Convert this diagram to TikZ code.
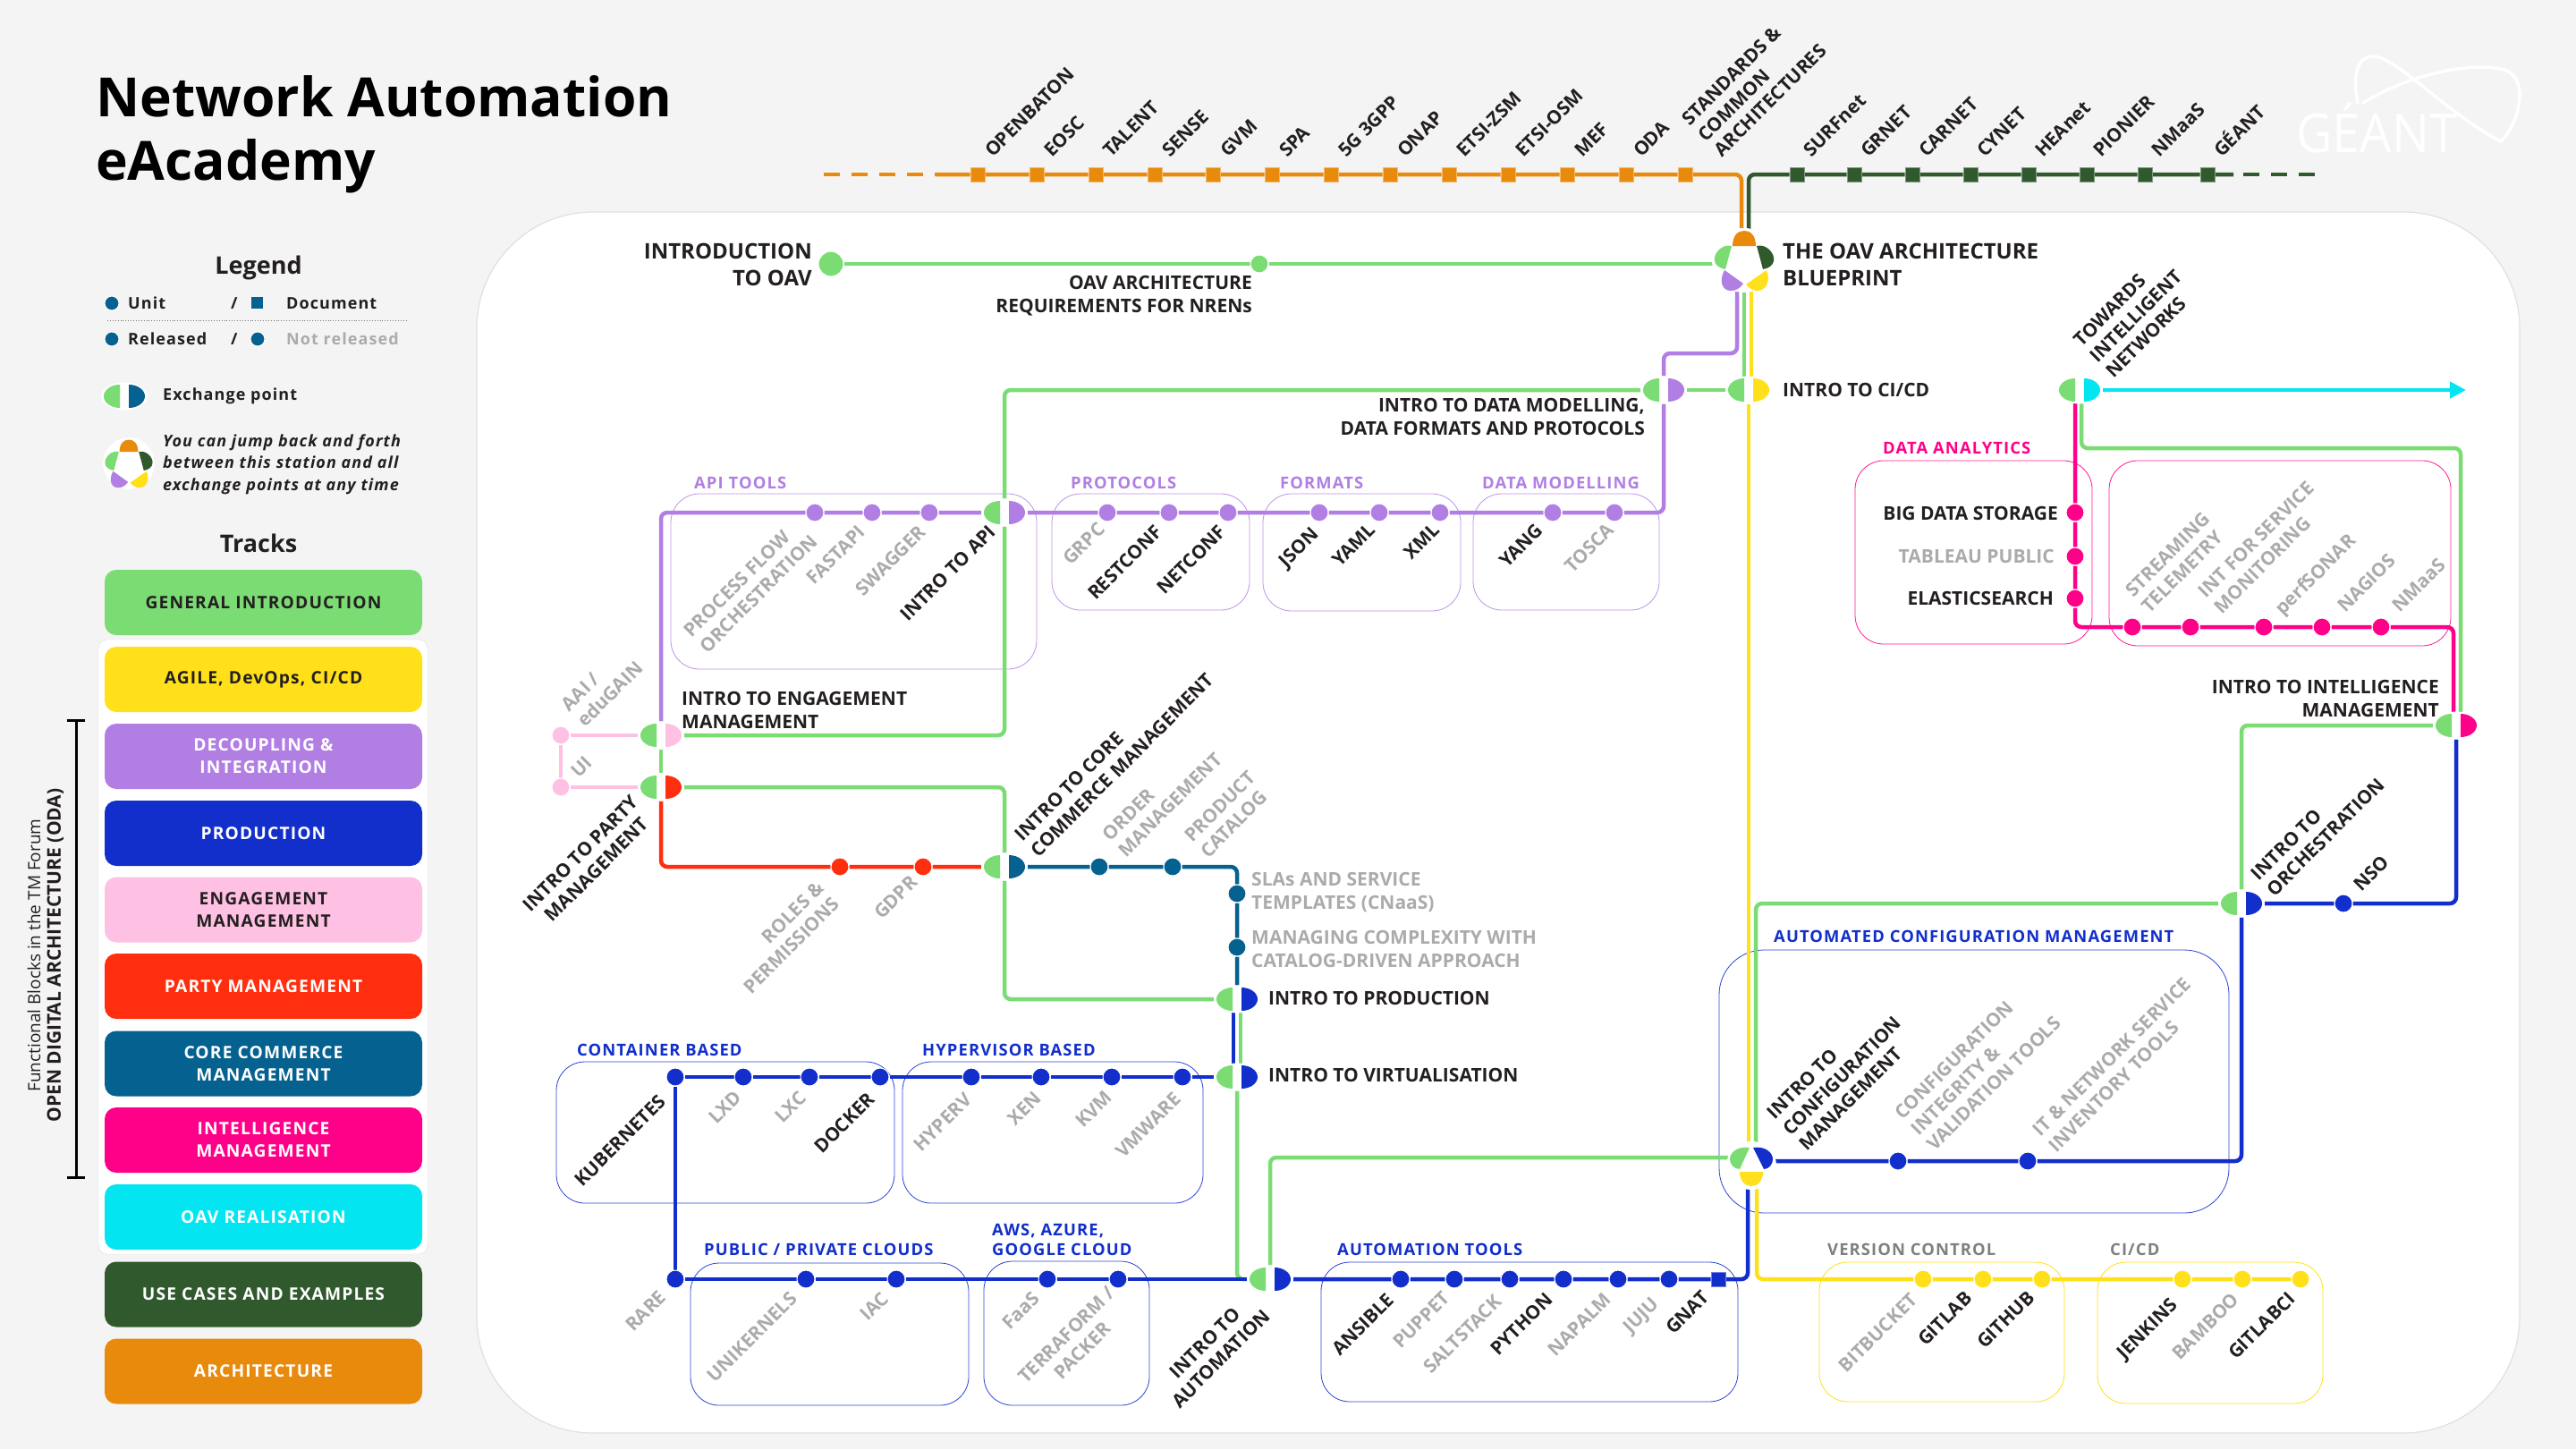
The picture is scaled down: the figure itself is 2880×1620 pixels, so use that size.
\documentclass[tikz,border=0pt]{standalone}
\usepackage{fontspec}
\usepackage{xcolor}
\setmainfont{Open Sans}
\newfontfamily\spaced{Open Sans}[LetterSpace=6]
\usetikzlibrary{shapes.geometric, arrows.meta, backgrounds}

\definecolor{cPage}{HTML}{F4F4F4}
\definecolor{cGen}{HTML}{7BDC74}
\definecolor{cAgile}{HTML}{FFE01A}
\definecolor{cDec}{HTML}{B17FE3}
\definecolor{cProd}{HTML}{122FCC}
\definecolor{cEng}{HTML}{FFC1E3}
\definecolor{cParty}{HTML}{FF2E0E}
\definecolor{cCore}{HTML}{05618F}
\definecolor{cIntel}{HTML}{FF0088}
\definecolor{cOav}{HTML}{04E5F2}
\definecolor{cUse}{HTML}{31592E}
\definecolor{cArch}{HTML}{E88B0D}
\definecolor{cInk}{HTML}{231F20}
\definecolor{cOff}{HTML}{ABABAB}

\tikzset{
    pics/halfl/.style={code={\fill[#1] (-5,-13) .. controls (-15,-13) and (-23,-7) .. (-23,0) .. controls (-23,7) and (-15,13) .. (-5,13) -- cycle;}},
    pics/halfr/.style={code={\fill[#1] (5,-13) .. controls (15,-13) and (23,-7) .. (23,0) .. controls (23,7) and (15,13) .. (5,13) -- cycle;}},
    pics/hubmark/.style={code={
        \fill[white] (0,0) circle [radius=36];
        \fill[cArch] (-13,-16) .. controls (-13,-28) and (-7,-33) .. (0,-33) .. controls (7,-33) and (13,-28) .. (13,-16) -- cycle;
        \fill[cGen] (-14,-16) .. controls (-24,-19) and (-35,-8) .. (-33,1) .. controls (-32,6) and (-27,9) .. (-21,10) -- cycle;
        \fill[cUse] (14,-16) .. controls (24,-19) and (35,-8) .. (33,1) .. controls (32,6) and (27,9) .. (21,10) -- cycle;
        \fill[cDec] (-22,11) -- (-1,26) .. controls (-5,32) and (-10,34) .. (-15,34) .. controls (-24,34) and (-29,24) .. (-22,11) -- cycle;
        \fill[cAgile] (25,11) -- (2,27) .. controls (6,32) and (11,34) .. (15,34) .. controls (24,34) and (30,24) .. (25,11) -- cycle;
    }}
}

% exchange point: name, x, y, left colour, right colour
\newcommand{\xpoint}[5]{
    \node[halo] (#1) at (#2,#3) {};
    \pic at (#1) {halfl=#4};
    \pic at (#1) {halfr=#5};
}

\begin{document}
\begin{tikzpicture}[
    x=1pt, y=-1pt,
    halo/.style={ellipse, fill=white, minimum width=52, minimum height=31, inner sep=0},
    stop/.style={circle, fill=#1, draw=white, line width=1, minimum size=20, inner sep=0},
    sqstop/.style={rectangle, fill=#1, draw=#1!60!white, line width=0.8, minimum size=16, inner sep=0},
    track/.style={draw=#1, line width=4.5, rounded corners=7},
    grp/.style={draw=#1, line width=0.8, rounded corners=32},
    trackbox/.style={rectangle, rounded corners=13, fill=#1, minimum width=355, minimum height=73, inner sep=0, align=center, text=white, font=\bfseries\spaced\fontsize{19.2}{25}\selectfont},
    txt/.style={inner sep=0, text=cInk, font=\bfseries\fontsize{21}{26}\selectfont},
    head/.style={inner sep=0, anchor=base west, font=\bfseries\spaced\fontsize{18.4}{22}\selectfont},
    tag/.style={rotate=45, anchor=base west, inner sep=0, text=cInk, align=left, font=\bfseries\fontsize{21}{25}\selectfont},
    multi/.style={anchor=west},
    off/.style={text=cOff},
    legtxt/.style={inner sep=0, anchor=west, text=cInk, font=\bfseries\spaced\fontsize{18}{24.5}\selectfont}
]
\useasboundingbox (0,0) rectangle (2880,1620);

% Title
\node[inner sep=0, anchor=base west, font=\bfseries\fontsize{60.5}{71}\selectfont] (title1) at (107,130) {Network Automation};
\node[inner sep=0, anchor=base west, font=\bfseries\fontsize{60.5}{71}\selectfont] (title2) at (107,201) {eAcademy};

% Logo
\node[inner sep=0, anchor=base west, xscale=0.93, text=white, font=\fontsize{60}{60}\selectfont] (logo) at (2567,170) {GÉANT};
\draw[white, line width=3.5, line cap=round] (2636,115) .. controls (2628,75) and (2640,62) .. (2655,63) .. controls (2680,65) and (2740,130) .. (2796,158);
\draw[white, line width=3.5, line cap=round] (2642,115) .. controls (2690,85) and (2760,68) .. (2800,78) .. controls (2830,88) and (2815,140) .. (2796,158);

% Legend
\node[txt, font=\bfseries\fontsize{27}{30}\selectfont] (legend) at (289,299) {Legend};
\node[stop=cCore, minimum size=16] (legunit) at (125,339) {};
\node[legtxt] (legunittxt) at (143,339) {Unit};
\node[legtxt] (legsl1) at (258,339) {/};
\node[sqstop=cCore, minimum size=13, draw=none] (legdoc) at (287,338) {};
\node[legtxt] (legdoctxt) at (320,339) {Document};
\coordinate (dotl) at (120,358);
\coordinate (dotr) at (454,358);
\node[stop=cCore, minimum size=16] (legrel) at (125,379) {};
\node[legtxt] (legreltxt) at (143,379) {Released};
\node[legtxt] (legsl2) at (258,379) {/};
\node[stop=cCore, minimum size=16] (legnot) at (288,379) {};
\node[legtxt, off] (legnottxt) at (320,379) {Not released};
\xpoint{legx}{139}{443}{cGen}{cCore}
\node[legtxt] (legxtxt) at (182,443) {Exchange point};
\pic[scale=0.8] at (144,518) {hubmark};
\node[legtxt, align=left, font=\bfseries\itshape\spaced\fontsize{18}{24.5}\selectfont] (legjump) at (182,519) {You can jump back and forth\\between this station and all\\exchange points at any time};

% Tracks
\node[txt, font=\bfseries\fontsize{27}{30}\selectfont] (tracks) at (289,607) {Tracks};
\node[draw=black!12, fill=white, rounded corners=10, minimum width=368, minimum height=687, inner sep=0] (odaback) at (294,1058.5) {};
\node[trackbox=cGen, text=cInk] (tgen) at (294.5,673.5) {GENERAL INTRODUCTION};
\node[trackbox=cAgile, text=cInk] (tagile) at (294.5,759.5) {AGILE, DevOps, CI/CD};
\node[trackbox=cDec] (tdec) at (294.5,845.5) {DECOUPLING \&\\INTEGRATION};
\node[trackbox=cProd] (tprod) at (294.5,931.5) {PRODUCTION};
\node[trackbox=cEng, text=cInk] (teng) at (294.5,1017) {ENGAGEMENT\\MANAGEMENT};
\node[trackbox=cParty] (tparty) at (294.5,1102.5) {PARTY MANAGEMENT};
\node[trackbox=cCore] (tcore) at (294.5,1189) {CORE COMMERCE\\MANAGEMENT};
\node[trackbox=cIntel] (tintel) at (294.5,1274.5) {INTELLIGENCE\\MANAGEMENT};
\node[trackbox=cOav] (toav) at (294.5,1360.5) {OAV REALISATION};
\node[trackbox=cUse] (tuse) at (294.5,1447) {USE CASES AND EXAMPLES};
\node[trackbox=cArch] (tarch) at (294.5,1533) {ARCHITECTURE};

% ODA bracket
\coordinate (odat) at (85,804);
\coordinate (odab) at (85,1318);
\draw[black, line width=3, {Bar[width=20pt]}-{Bar[width=20pt]}] (odat) -- (odab);
\node[inner sep=0, rotate=90, text=cInk, font=\fontsize{19}{22}\selectfont] (odatxt1) at (38,1068) {Functional Blocks in the TM Forum};
\node[inner sep=0, rotate=90, text=cInk, font=\bfseries\fontsize{21}{24}\selectfont] (odatxt2) at (62,1068) {OPEN DIGITAL ARCHITECTURE (ODA)};

% Hubs
\pic at (1950,291) {hubmark};
\coordinate (hubg) at (1917,295);
\coordinate (hubo) at (1947,258);
\coordinate (hubd) at (1955,258);
\coordinate (hubgd) at (1950,325);
\coordinate (hubyd) at (1958,325);
\coordinate (hubpd) at (1942,325);

% Exchange points
\xpoint{cicd}{1955}{436}{cGen}{cAgile}
\xpoint{dm}{1860}{436}{cGen}{cDec}
\xpoint{towards}{2325}{436}{cGen}{cOav}
\xpoint{api}{1123}{573}{cGen}{cDec}
\xpoint{eng}{739}{822}{cGen}{cEng}
\xpoint{party}{739}{880}{cGen}{cParty}
\xpoint{core}{1123}{969}{cGen}{cCore}
\xpoint{prod}{1383}{1117}{cGen}{cProd}
\xpoint{virt}{1383}{1204}{cGen}{cProd}
\xpoint{autom}{1420}{1430}{cGen}{cProd}
\xpoint{intel}{2746}{811}{cGen}{cIntel}
\xpoint{orch}{2506}{1010}{cGen}{cProd}

% Config exchange
\node[ellipse, fill=white, minimum width=56, minimum height=54, inner sep=0] (conf) at (1958,1303) {};
\fill[cGen] (1956,1283) .. controls (1943,1281) and (1934,1288) .. (1934,1296) .. controls (1934,1301) and (1938,1307) .. (1945,1307) -- cycle;
\fill[cProd] (1960,1283) .. controls (1973,1281) and (1982,1288) .. (1982,1296) .. controls (1982,1301) and (1978,1307) .. (1972,1307) -- cycle;
\fill[cAgile] (1945,1310) .. controls (1945,1320) and (1951,1326) .. (1958,1326) .. controls (1965,1326) and (1971,1320) .. (1971,1310) -- cycle;
\coordinate (confgl) at (1934,1294);
\coordinate (confgu) at (1963,1283);
\coordinate (confyu) at (1955,1284);
\coordinate (confr) at (1983,1298);
\coordinate (confbd) at (1954,1326);
\coordinate (confyd) at (1964,1326);

% Architecture stations
\node[sqstop=cArch] (openbaton) at (1093,195) {};
\node[sqstop=cArch] (eosc) at (1159,195) {};
\node[sqstop=cArch] (talent) at (1225,195) {};
\node[sqstop=cArch] (sense) at (1291,195) {};
\node[sqstop=cArch] (gvm) at (1356,195) {};
\node[sqstop=cArch] (spa) at (1422,195) {};
\node[sqstop=cArch] (threegpp) at (1488,195) {};
\node[sqstop=cArch] (onap) at (1554,195) {};
\node[sqstop=cArch] (zsm) at (1620,195) {};
\node[sqstop=cArch] (osm) at (1686,195) {};
\node[sqstop=cArch] (mef) at (1752,195) {};
\node[sqstop=cArch] (oda) at (1818,195) {};
\node[sqstop=cArch] (standards) at (1884,195) {};
\node[tag] (lopenbaton) at (1110,177) {OPENBATON};
\node[tag] (leosc) at (1176,177) {EOSC};
\node[tag] (ltalent) at (1242,177) {TALENT};
\node[tag] (lsense) at (1308,177) {SENSE};
\node[tag] (lgvm) at (1373,177) {GVM};
\node[tag] (lspa) at (1439,177) {SPA};
\node[tag] (lthreegpp) at (1505,177) {5G 3GPP};
\node[tag] (lonap) at (1571,177) {ONAP};
\node[tag] (lzsm) at (1637,177) {ETSI-ZSM};
\node[tag] (losm) at (1703,177) {ETSI-OSM};
\node[tag] (lmef) at (1769,177) {MEF};
\node[tag] (loda) at (1835,177) {ODA};
\node[tag, multi] (lstandards) at (1902,154) {STANDARDS \&\\COMMON\\ARCHITECTURES};

% Use case stations
\node[sqstop=cUse] (surfnet) at (2009,195) {};
\node[sqstop=cUse] (grnet) at (2073,195) {};
\node[sqstop=cUse] (carnet) at (2138,195) {};
\node[sqstop=cUse] (cynet) at (2203,195) {};
\node[sqstop=cUse] (heanet) at (2268,195) {};
\node[sqstop=cUse] (pionier) at (2333,195) {};
\node[sqstop=cUse] (nmaastop) at (2398,195) {};
\node[sqstop=cUse] (geant) at (2468,195) {};
\node[tag] (lsurfnet) at (2025,177) {SURFnet};
\node[tag] (lgrnet) at (2089,177) {GRNET};
\node[tag] (lcarnet) at (2154,177) {CARNET};
\node[tag] (lcynet) at (2219,177) {CYNET};
\node[tag] (lheanet) at (2284,177) {HEAnet};
\node[tag] (lpionier) at (2349,177) {PIONIER};
\node[tag] (lnmaastop) at (2414,177) {NMaaS};
\node[tag] (lgeant) at (2484,177) {GÉANT};

% General introduction
\node[stop=cGen, minimum size=28] (introoav) at (929,295) {};
\node[stop=cGen] (oavreq) at (1408,295) {};
\node[txt, anchor=east, align=right, font=\bfseries\fontsize{24}{29.5}\selectfont] (lintrooav) at (908,296) {INTRODUCTION\\TO OAV};
\node[txt, anchor=east, align=right] (loavreq) at (1400,331) {OAV ARCHITECTURE\\REQUIREMENTS FOR NRENs};
\node[txt, anchor=west, align=left, font=\bfseries\fontsize{24}{29.5}\selectfont] (lhub) at (1993,296) {THE OAV ARCHITECTURE\\BLUEPRINT};
\node[txt, anchor=west] (lcicd) at (1993,436) {INTRO TO CI/CD};
\node[txt, anchor=east, align=right] (ldm) at (1839,466) {INTRO TO DATA MODELLING,\\DATA FORMATS AND PROTOCOLS};
\node[tag, multi] (ltowards) at (2340,401) {TOWARDS\\INTELLIGENT\\NETWORKS};

% Decoupling stations
\node[stop=cDec] (process) at (911,573) {};
\node[stop=cDec] (fastapi) at (975,573) {};
\node[stop=cDec] (swagger) at (1039,573) {};
\node[stop=cDec] (grpc) at (1238,573) {};
\node[stop=cDec] (restconf) at (1307,573) {};
\node[stop=cDec] (netconf) at (1373,573) {};
\node[stop=cDec] (json) at (1475,573) {};
\node[stop=cDec] (yaml) at (1542,573) {};
\node[stop=cDec] (xml) at (1610,573) {};
\node[stop=cDec] (yang) at (1736,573) {};
\node[stop=cDec] (tosca) at (1805,573) {};
\coordinate (dmtop) at (1860,395);
\node[tag, multi, off] (lprocess) at (777,717) {PROCESS FLOW\\ORCHESTRATION};
\node[tag, off] (lfastapi) at (910,655) {FASTAPI};
\node[tag, off] (lswagger) at (965,668) {SWAGGER};
\node[tag] (lapi) at (1015,696) {INTRO TO API};
\node[tag, off] (lgrpc) at (1197,633) {GRPC};
\node[tag] (lrestconf) at (1225,672) {RESTCONF};
\node[tag] (lnetconf) at (1302,666) {NETCONF};
\node[tag] (ljson) at (1438,636) {JSON};
\node[tag] (lyaml) at (1498,635) {YAML};
\node[tag] (lxml) at (1578,627) {XML};
\node[tag] (lyang) at (1685,636) {YANG};
\node[tag, off] (ltosca) at (1758,642) {TOSCA};
\node[head, text=cDec] (hapi) at (776,546) {API TOOLS};
\node[head, text=cDec] (hprot) at (1197,546) {PROTOCOLS};
\node[head, text=cDec] (hform) at (1431,546) {FORMATS};
\node[head, text=cDec] (hmod) at (1657,546) {DATA MODELLING};

% Engagement and party stations
\node[stop=cEng] (aai) at (627,822) {};
\node[stop=cEng] (ui) at (627,880) {};
\node[tag, multi, off] (laai) at (640,800) {AAI /\\eduGAIN};
\node[tag, off] (lui) at (647,871) {UI};
\node[txt, anchor=west, align=left] (leng) at (762,794) {INTRO TO ENGAGEMENT\\MANAGEMENT};
\node[tag, anchor=center, align=center] (lparty) at (658,963) {INTRO TO PARTY\\MANAGEMENT};
\node[stop=cParty] (roles) at (939,969) {};
\node[stop=cParty] (gdpr) at (1032,969) {};
\node[tag, anchor=east, align=right, off] (lroles) at (926,998) {ROLES \&\\PERMISSIONS};
\node[tag, off] (lgdpr) at (986,1029) {GDPR};

% Core commerce stations
\node[stop=cCore] (order) at (1229,969) {};
\node[stop=cCore] (catalog) at (1311,969) {};
\node[stop=cCore] (slas) at (1383,999) {};
\node[stop=cCore] (managing) at (1383,1059) {};
\node[tag, multi] (lcore) at (1147,945) {INTRO TO CORE\\COMMERCE MANAGEMENT};
\node[tag, multi, off] (lorder) at (1245,945) {ORDER\\MANAGEMENT};
\node[tag, multi, off] (lcatalog) at (1337,946) {PRODUCT\\CATALOG};
\node[txt, off, anchor=west, align=left] (lslas) at (1399,998) {SLAs AND SERVICE\\TEMPLATES (CNaaS)};
\node[txt, off, anchor=west, align=left] (lmanaging) at (1399,1061) {MANAGING COMPLEXITY WITH\\CATALOG-DRIVEN APPROACH};

% Production stations
\node[txt, anchor=west] (lprod) at (1418,1116) {INTRO TO PRODUCTION};
\node[txt, anchor=west] (lvirt) at (1418,1202) {INTRO TO VIRTUALISATION};
\node[stop=cProd] (vmware) at (1322,1204) {};
\node[stop=cProd] (kvm) at (1243,1204) {};
\node[stop=cProd] (xen) at (1164,1204) {};
\node[stop=cProd] (hyperv) at (1086,1204) {};
\node[stop=cProd] (docker) at (984,1204) {};
\node[stop=cProd] (lxc) at (905,1204) {};
\node[stop=cProd] (lxd) at (831,1204) {};
\node[stop=cProd] (kubernetes) at (755,1204) {};
\node[stop=cProd] (rare) at (755,1430) {};
\node[stop=cProd] (unikernels) at (901,1430) {};
\node[stop=cProd] (iac) at (1002,1430) {};
\node[stop=cProd] (faas) at (1171,1430) {};
\node[stop=cProd] (terraform) at (1250,1430) {};
\node[tag] (lkubernetes) at (651,1328) {KUBERNETES};
\node[tag, off] (llxd) at (801,1258) {LXD};
\node[tag, off] (llxc) at (875,1257) {LXC};
\node[tag] (ldocker) at (919,1291) {DOCKER};
\node[tag, off] (lhyperv) at (1030,1289) {HYPERV};
\node[tag, off] (lxen) at (1135,1260) {XEN};
\node[tag, off] (lkvm) at (1211,1262) {KVM};
\node[tag, off] (lvmware) at (1256,1296) {VMWARE};
\node[tag, off] (lrare) at (708,1490) {RARE};
\node[tag, off] (lunikernels) at (799,1547) {UNIKERNELS};
\node[tag, off] (liac) at (970,1478) {IAC};
\node[tag, off] (lfaas) at (1129,1488) {FaaS};
\node[tag, off, anchor=center, align=center] (lterraform) at (1201,1501) {TERRAFORM /\\PACKER};
\node[tag, anchor=center, align=center] (lautom) at (1356,1510) {INTRO TO\\AUTOMATION};
\node[head, text=cProd] (hcont) at (645,1180) {CONTAINER BASED};
\node[head, text=cProd] (hhyp) at (1031,1180) {HYPERVISOR BASED};
\node[head, text=cProd] (hpub) at (787,1403) {PUBLIC / PRIVATE CLOUDS};
\node[head, text=cProd] (haws1) at (1109,1381) {AWS, AZURE,};
\node[head, text=cProd] (haws2) at (1109,1403) {GOOGLE CLOUD};

% Automation stations
\node[stop=cProd] (ansible) at (1566,1430) {};
\node[stop=cProd] (puppet) at (1626,1430) {};
\node[stop=cProd] (saltstack) at (1688,1430) {};
\node[stop=cProd] (python) at (1748,1430) {};
\node[stop=cProd] (napalm) at (1809,1430) {};
\node[stop=cProd] (juju) at (1866,1430) {};
\node[sqstop=cProd] (gnat) at (1921,1430) {};
\node[tag] (lansible) at (1498,1517) {ANSIBLE};
\node[tag, off] (lpuppet) at (1566,1509) {PUPPET};
\node[tag, off] (lsaltstack) at (1600,1537) {SALTSTACK};
\node[tag] (lpython) at (1675,1517) {PYTHON};
\node[tag, off] (lnapalm) at (1739,1518) {NAPALM};
\node[tag, off] (ljuju) at (1823,1492) {JUJU};
\node[tag] (lgnat) at (1871,1493) {GNAT};
\node[head, text=cProd] (hauto) at (1495,1403) {AUTOMATION TOOLS};

% Version control stations
\node[stop=cAgile] (bitbucket) at (2150,1430) {};
\node[stop=cAgile] (gitlab) at (2217,1430) {};
\node[stop=cAgile] (github) at (2283,1430) {};
\node[stop=cAgile] (jenkins) at (2440,1430) {};
\node[stop=cAgile] (bamboo) at (2507,1430) {};
\node[stop=cAgile] (gitlabci) at (2572,1430) {};
\node[tag, off] (lbitbucket) at (2064,1536) {BITBUCKET};
\node[tag] (lgitlab) at (2153,1506) {GITLAB};
\node[tag] (lgithub) at (2219,1509) {GITHUB};
\node[tag] (ljenkins) at (2375,1521) {JENKINS};
\node[tag, off] (lbamboo) at (2437,1522) {BAMBOO};
\node[tag] (lgitlabci) at (2500,1521) {GITLABCI};
\node[head, text=black!50] (hver) at (2043,1403) {VERSION CONTROL};
\node[head, text=black!50] (hcicd) at (2359,1403) {CI/CD};

% Configuration stations
\node[stop=cProd] (confval) at (2122,1298) {};
\node[stop=cProd] (confinv) at (2267,1298) {};
\node[tag, multi] (lconf) at (1997,1265) {INTRO TO\\CONFIGURATION\\MANAGEMENT};
\node[tag, multi, off] (lconfval) at (2140,1265) {CONFIGURATION\\INTEGRITY \&\\VALIDATION TOOLS};
\node[tag, multi, off] (lconfinv) at (2285,1275) {IT \& NETWORK SERVICE\\INVENTORY TOOLS};
\node[head, text=cProd] (hconf) at (1983,1053) {AUTOMATED CONFIGURATION MANAGEMENT};
\node[stop=cProd] (nso) at (2620,1010) {};
\node[tag, multi] (lorch) at (2529,989) {INTRO TO\\ORCHESTRATION};
\node[tag] (lnso) at (2640,998) {NSO};

% Intelligence stations
\node[stop=cIntel] (bigdata) at (2320,573) {};
\node[stop=cIntel] (tableau) at (2320,622) {};
\node[stop=cIntel] (elastic) at (2320,669) {};
\node[stop=cIntel] (streaming) at (2384,701) {};
\node[stop=cIntel] (intmon) at (2449,701) {};
\node[stop=cIntel] (perfsonar) at (2531,701) {};
\node[stop=cIntel] (nagios) at (2596,701) {};
\node[stop=cIntel] (nmaas) at (2662,701) {};
\node[txt, anchor=east] (lbigdata) at (2301,574) {BIG DATA STORAGE};
\node[txt, anchor=east, off] (ltableau) at (2297,622) {TABLEAU PUBLIC};
\node[txt, anchor=east] (lelastic) at (2296,669) {ELASTICSEARCH};
\node[txt, anchor=east, align=right] (lintel) at (2727,781) {INTRO TO INTELLIGENCE\\MANAGEMENT};
\node[tag, multi, off] (lstreaming) at (2389,672) {STREAMING\\TELEMETRY};
\node[tag, multi, off] (lintmon) at (2470,673) {INT FOR SERVICE\\MONITORING};
\node[tag, off] (lperfsonar) at (2552,689) {perfSONAR};
\node[tag, off] (lnagios) at (2622,686) {NAGIOS};
\node[tag, off] (lnmaas) at (2683,686) {NMaaS};
\node[head, text=cIntel] (hdata) at (2105,507) {DATA ANALYTICS};

\begin{scope}[on background layer]
% Page and panel
\fill[cPage] (0,0) rectangle (2880,1620);
\draw[black!12, fill=white, line width=1.2, rounded corners=130] (533,237) rectangle (2817,1602);
\draw[black!55, line width=0.9, dotted] (dotl) -- (dotr);

% Groups
\draw[grp=cDec!85!white] (750,552) rectangle (1159,748);
\draw[grp=cDec!85!white] (1176,552) rectangle (1397,682);
\draw[grp=cDec!85!white] (1412,552) rectangle (1633,683);
\draw[grp=cDec!85!white] (1647,552) rectangle (1855,682);
\draw[grp=cIntel!90!white] (2074,515) rectangle (2339,720);
\draw[grp=cIntel!90!white] (2358,515) rectangle (2740,722);
\draw[grp=cProd!90!white] (622,1187) rectangle (1000,1345);
\draw[grp=cProd!90!white] (1009,1187) rectangle (1345,1345);
\draw[grp=cProd!90!white] (772,1412) rectangle (1083,1571);
\draw[grp=cProd!90!white] (1100,1410) rectangle (1285,1571);
\draw[grp=cProd!90!white] (1477,1411) rectangle (1943,1567);
\draw[grp=cAgile] (2034,1411) rectangle (2308,1567);
\draw[grp=cAgile] (2345,1411) rectangle (2597,1569);
\draw[grp=cProd!90!white, rounded corners=50] (1922,1062) rectangle (2492,1356);

% Architecture line
\coordinate (orgd) at (921,195);
\coordinate (orgs) at (1046,195);
\draw[track=cArch, dash pattern=on 18pt off 13pt] (orgd) -- (orgs);
\draw[track=cArch] (orgs) -- (openbaton) -- (eosc) -- (talent) -- (sense) -- (gvm) -- (spa) -- (threegpp) -- (onap) -- (zsm) -- (osm) -- (mef) -- (oda) -- (standards) -| (hubo);

% Use cases line
\coordinate (used) at (2508,195);
\coordinate (usee) at (2589,195);
\coordinate (uses) at (2497,195);
\draw[track=cUse] (hubd) |- (surfnet) -- (grnet) -- (carnet) -- (cynet) -- (heanet) -- (pionier) -- (nmaastop) -- (geant) -- (uses);
\draw[track=cUse, dash pattern=on 18pt off 13pt] (used) -- (usee);

% General line
\coordinate (cicdg) at (1950,424);
\coordinate (cicdy) at (1958,424);
\coordinate (prodg) at (1387,1130);
\coordinate (virtg) at (1387,1190);
\coordinate (prodb) at (1379,1130);
\coordinate (virtb) at (1379,1190);
\coordinate (twg) at (2327,449);
\coordinate (twc) at (2751,501);
\coordinate (intg) at (2751,798);
\draw[track=cGen] (introoav) -- (oavreq) -- (hubg);
\draw[track=cGen] (hubgd) -- (cicdg);
\draw[track=cGen] (cicd) -- (dm);
\draw[track=cGen] (dm) -| (api);
\draw[track=cGen] (api) |- (eng);
\draw[track=cGen] (eng) -- (party);
\draw[track=cGen] (party) -| (core);
\draw[track=cGen] (core) |- (prod);
\draw[track=cGen] (prodg) -- (virtg);
\draw[track=cGen] (virt) |- (autom);
\draw[track=cGen] (autom) |- (confgl);
\draw[track=cGen] (confgu) |- (orch);
\draw[track=cGen] (orch) |- (intel);
\draw[track=cGen] (twg) |- (twc) -- (intg);

% Agile line
\draw[track=cAgile] (hubyd) -- (cicdy);
\draw[track=cAgile] (cicd) -- (confyu);
\draw[track=cAgile] (confyd) |- (bitbucket) -- (gitlab) -- (github) -- (jenkins) -- (bamboo) -- (gitlabci);

% Decoupling line
\draw[track=cDec] (hubpd) |- (dmtop) -- (dm);
\draw[track=cDec] (dm) |- (tosca) -- (yang) -- (xml) -- (yaml) -- (json) -- (netconf) -- (restconf) -- (grpc) -- (api);
\draw[track=cDec] (api) -- (swagger) -- (fastapi) -- (process) -| (eng);

% Engagement line
\draw[track=cEng] (eng) -- (aai) -- (ui) -- (party);

% Party line
\draw[track=cParty] (party) |- (roles) -- (gdpr) -- (core);

% Core line
\draw[track=cCore] (core) -- (order) -- (catalog) -| (slas) -- (managing) -- (prod);

% Production line
\draw[track=cProd] (prodb) -- (virtb);
\draw[track=cProd] (virt) -- (vmware) -- (kvm) -- (xen) -- (hyperv) -- (docker) -- (lxc) -- (lxd) -- (kubernetes) -- (rare) -- (unikernels) -- (iac) -- (faas) -- (terraform) -- (autom);
\draw[track=cProd] (autom) -- (ansible) -- (puppet) -- (saltstack) -- (python) -- (napalm) -- (juju) -- (gnat) -| (confbd);
\draw[track=cProd] (confr) -- (confval) -- (confinv) -| (orch);
\draw[track=cProd] (orch) -- (nso) -| (intel);

% Intelligence line
\coordinate (twp) at (2320,449);
\coordinate (intp) at (2743,798);
\draw[track=cIntel] (twp) -- (bigdata) -- (tableau) -- (elastic) |- (streaming) -- (intmon) -- (perfsonar) -- (nagios) -- (nmaas) -| (intp);

% Realisation line
\coordinate (oavend) at (2757,436);
\draw[track=cOav, -{Triangle[length=18pt,width=18pt]}] (towards) -- (oavend);
\end{scope}

\end{tikzpicture}
\end{document}
